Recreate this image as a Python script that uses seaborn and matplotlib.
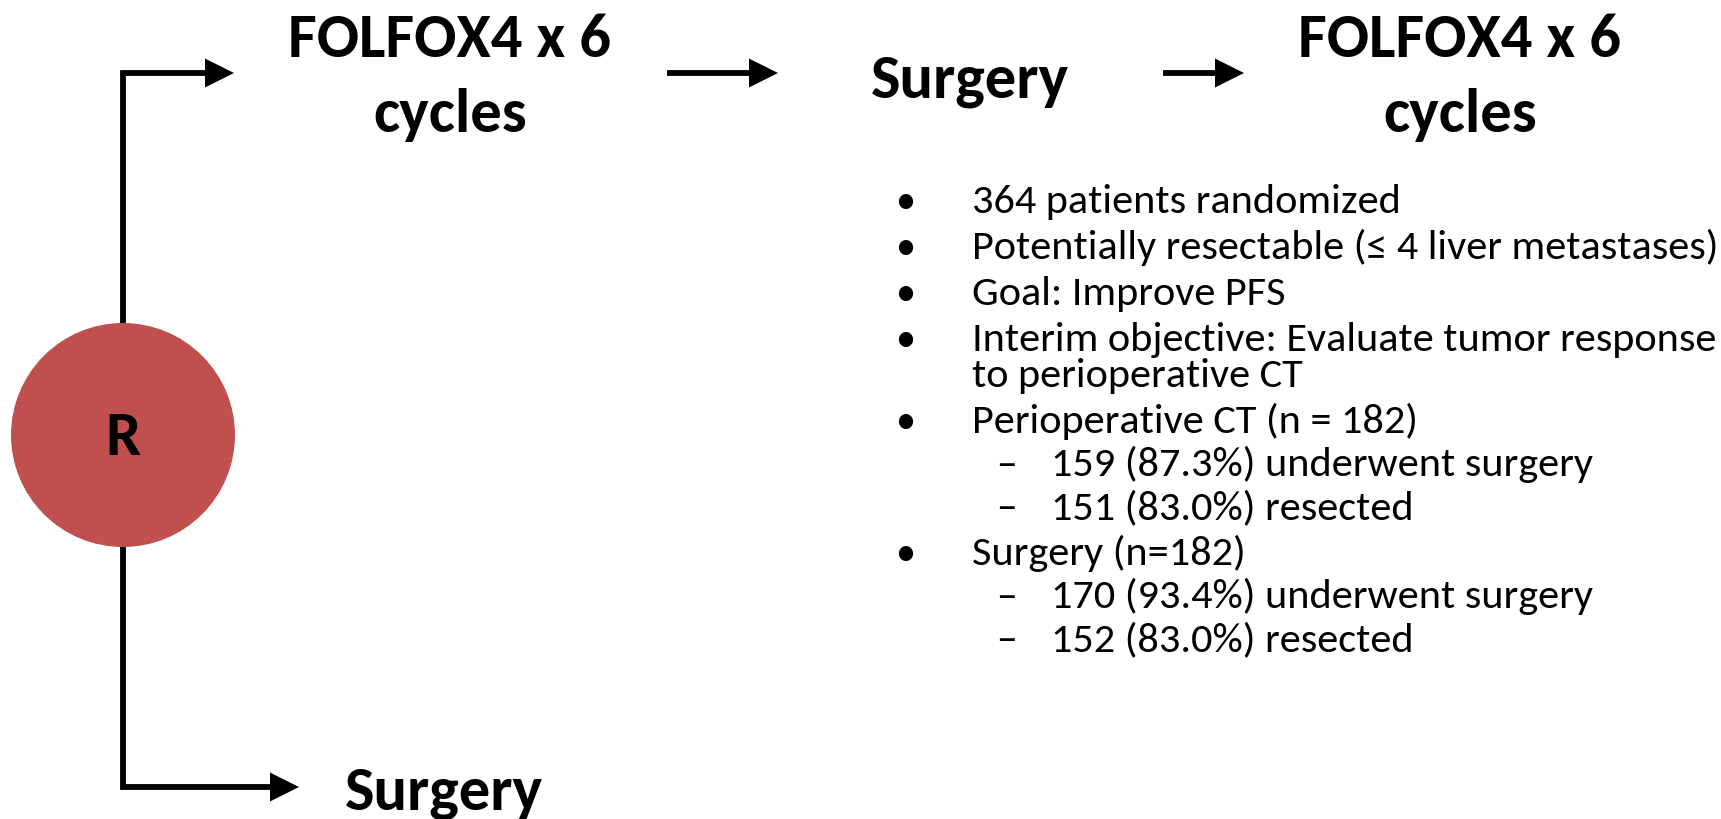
import numpy as np
import matplotlib.pyplot as plt
from matplotlib import font_manager as fm
from matplotlib.patches import Circle, Polygon
import seaborn as sns

# ---- content ----
arm_top = ['FOLFOX4 x 6\ncycles', 'Surgery', 'FOLFOX4 x 6\ncycles']
arm_bottom = 'Surgery'
node_label = 'R'

bullet_levels = [0, 0, 0, 0, 0, 1, 1, 0, 1, 1]
bullet_texts = [
    '364 patients randomized',
    'Potentially resectable (\u2264 4 liver metastases)',
    'Goal: Improve PFS',
    'Interim objective: Evaluate tumor response\nto perioperative CT',
    'Perioperative CT (n = 182)',
    '159 (87.3%) underwent surgery',
    '151 (83.0%) resected',
    'Surgery (n=182)',
    '170 (93.4%) underwent surgery',
    '152 (83.0%) resected',
]

node_color = '#C0504D'

sns.set_theme(style='white')
installed = {f.name for f in fm.fontManager.ttflist}
main_font = next(f for f in ['Carlito', 'Liberation Sans', 'DejaVu Sans'] if f in installed)
plt.rcParams['font.family'] = [main_font, 'DejaVu Sans']

fig = plt.figure(figsize=(17.21, 8.19), dpi=100)
ax = fig.add_axes([0, 0, 1, 1])
ax.set_xlim(0, 1721)
ax.set_ylim(819, 0)
ax.axis('off')


def arrow(points, lw=4.2, head_len=29, head_w=14.5):
    pts = np.array(points, dtype=float)
    tip = pts[-1]
    d = tip - pts[-2]
    d = d / np.linalg.norm(d)
    n = np.array([-d[1], d[0]])
    base = tip - d * head_len
    line = np.vstack([pts[:-1], base + d * 2])
    ax.plot(line[:, 0], line[:, 1], color='black', lw=lw, solid_capstyle='butt',
            solid_joinstyle='miter')
    ax.add_patch(Polygon([base + n * head_w, tip, base - n * head_w],
                         closed=True, color='black', lw=0))


# connectors from the randomisation node
cx, cy, r = 123, 435, 112
arrow([(cx, cy - r), (cx, 73), (234, 73)])
arrow([(cx, cy + r), (cx, 787), (299, 787)])
arrow([(667, 73), (778, 73)])
arrow([(1163, 73), (1244, 73)])

ax.add_patch(Circle((cx, cy), r, color=node_color, lw=0))
ax.text(cx, cy + 20, node_label, ha='center', va='baseline', fontsize=45,
        fontweight='bold', color='black')

# top arm
head_x = [450, 970, 1460]
for x, label in zip(head_x, arm_top):
    lines = label.split('\n')
    base_y = [57, 132] if len(lines) == 2 else [98]
    for yb, ln in zip(base_y, lines):
        ax.text(x, yb, ln, ha='center', va='baseline', fontsize=45,
                fontweight='bold', color='black')

# bottom arm
ax.text(444, 809, arm_bottom, ha='center', va='baseline', fontsize=45,
        fontweight='bold', color='black')

# bullet list
y = 213 - 46
for lvl, txt in zip(bullet_levels, bullet_texts):
    y += 46 if lvl == 0 else 43
    if lvl == 0:
        ax.text(905, y, '\u2022', ha='center', va='baseline', fontsize=29, color='black')
        tx = 972
    else:
        ax.text(1006, y, '\u2013', ha='center', va='baseline', fontsize=30, color='black')
        tx = 1051
    for k, ln in enumerate(txt.split('\n')):
        if k > 0:
            y += 36
        ax.text(tx, y, ln, ha='left', va='baseline', fontsize=30.4, color='black')

fig.savefig('out.png', dpi=100, facecolor='white')
